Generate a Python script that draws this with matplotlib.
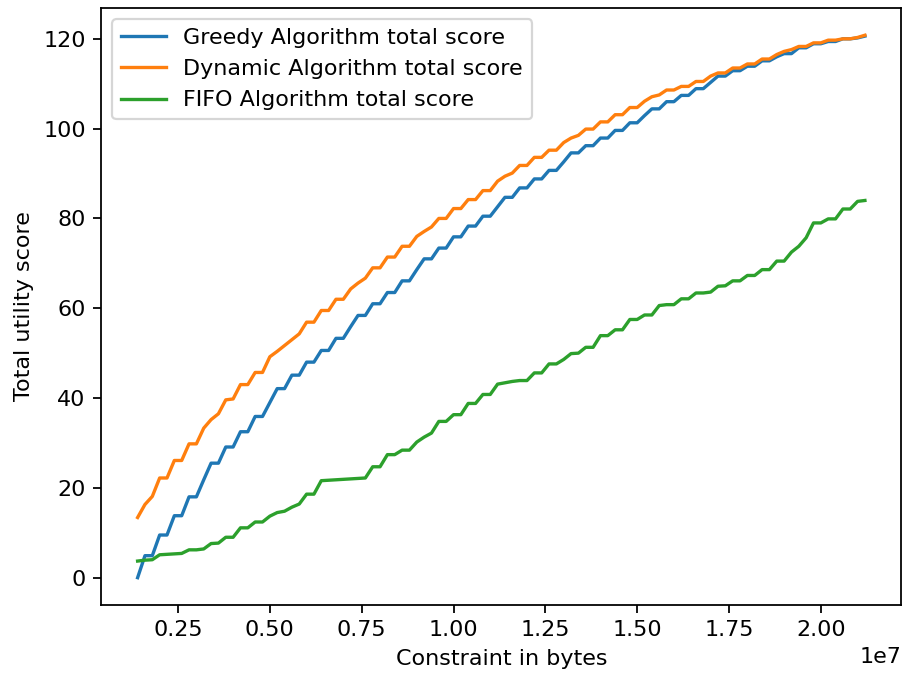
import numpy as np
from matplotlib import pyplot as plt

# constraint values in bytes (grid of 100 runs)
constraint = np.arange(1_400_000, 21_400_000, 200_000)

greedy = [0.0, 4.9, 4.9, 9.5, 9.5, 13.8, 13.8, 18.0, 18.0, 21.8,
          25.5, 25.5, 29.1, 29.1, 32.5, 32.5, 35.9, 35.9, 39.0, 42.1,
          42.1, 45.1, 45.1, 48.0, 48.0, 50.6, 50.6, 53.3, 53.3, 55.9,
          58.4, 58.4, 61.0, 61.0, 63.5, 63.5, 66.1, 66.1, 68.6, 71.0,
          71.0, 73.4, 73.4, 75.9, 75.9, 78.3, 78.3, 80.5, 80.5, 82.6,
          84.7, 84.7, 86.8, 86.8, 88.8, 88.8, 90.7, 90.7, 92.6, 94.6,
          94.6, 96.2, 96.2, 97.9, 97.9, 99.6, 99.6, 101.3, 101.3, 102.9,
          104.4, 104.4, 106.0, 106.0, 107.4, 107.4, 108.9, 108.9, 110.3, 111.7,
          111.7, 112.9, 112.9, 113.9, 113.9, 115.1, 115.1, 116.0, 116.7, 116.7,
          118.0, 118.0, 118.9, 118.9, 119.4, 119.4, 120.0, 120.0, 120.2, 120.6]

dynamic = [13.4, 16.3, 18.1, 22.2, 22.2, 26.1, 26.1, 29.8, 29.8, 33.3,
           35.2, 36.5, 39.6, 39.8, 43.0, 43.0, 45.7, 45.7, 49.2, 50.4,
           51.7, 53.0, 54.3, 56.9, 56.9, 59.5, 59.5, 62.0, 62.0, 64.3,
           65.6, 66.7, 69.0, 69.0, 71.4, 71.4, 73.8, 73.8, 76.0, 77.1,
           78.1, 80.0, 80.0, 82.2, 82.2, 84.2, 84.2, 86.2, 86.2, 88.3,
           89.4, 90.1, 91.8, 91.8, 93.6, 93.6, 95.2, 95.2, 96.9, 97.9,
           98.5, 99.9, 99.9, 101.5, 101.5, 103.1, 103.1, 104.7, 104.7, 106.1,
           107.1, 107.5, 108.6, 108.6, 109.4, 109.4, 110.5, 110.5, 111.7, 112.4,
           112.4, 113.5, 113.5, 114.4, 114.4, 115.5, 115.5, 116.5, 117.2, 117.6,
           118.3, 118.3, 119.1, 119.1, 119.7, 119.7, 120.0, 120.0, 120.3, 120.8]

fifo = [3.7, 3.9, 4.0, 5.1, 5.2, 5.3, 5.4, 6.2, 6.2, 6.4,
        7.6, 7.7, 9.0, 9.0, 11.1, 11.1, 12.4, 12.4, 13.7, 14.5,
        14.8, 15.7, 16.4, 18.6, 18.6, 21.6, 21.7, 21.8, 21.9, 22.0,
        22.1, 22.2, 24.7, 24.7, 27.4, 27.4, 28.4, 28.4, 30.2, 31.3,
        32.2, 34.8, 34.8, 36.3, 36.3, 38.8, 38.8, 40.8, 40.8, 43.1,
        43.4, 43.7, 43.9, 43.9, 45.6, 45.6, 47.6, 47.6, 48.6, 49.9,
        50.0, 51.3, 51.3, 53.9, 53.9, 55.2, 55.2, 57.5, 57.5, 58.5,
        58.5, 60.6, 60.8, 60.8, 62.1, 62.1, 63.4, 63.4, 63.6, 64.9,
        65.0, 66.1, 66.1, 67.3, 67.3, 68.6, 68.6, 70.5, 70.5, 72.5,
        73.8, 75.7, 79.0, 79.0, 79.9, 79.9, 82.1, 82.1, 83.8, 84.0]

fig, ax = plt.subplots(figsize=(904 / 160, 675 / 160), dpi=160)
fig.subplots_adjust(left=0.112, right=0.997, top=0.988, bottom=0.104)

ax.plot(constraint, greedy, label="Greedy Algorithm total score")
ax.plot(constraint, dynamic, label="Dynamic Algorithm total score")
ax.plot(constraint, fifo, label="FIFO Algorithm total score")

ax.set_xlabel("Constraint in bytes")
ax.set_ylabel("Total utility score")
ax.legend(loc="upper left")

fig.savefig("out.png")
